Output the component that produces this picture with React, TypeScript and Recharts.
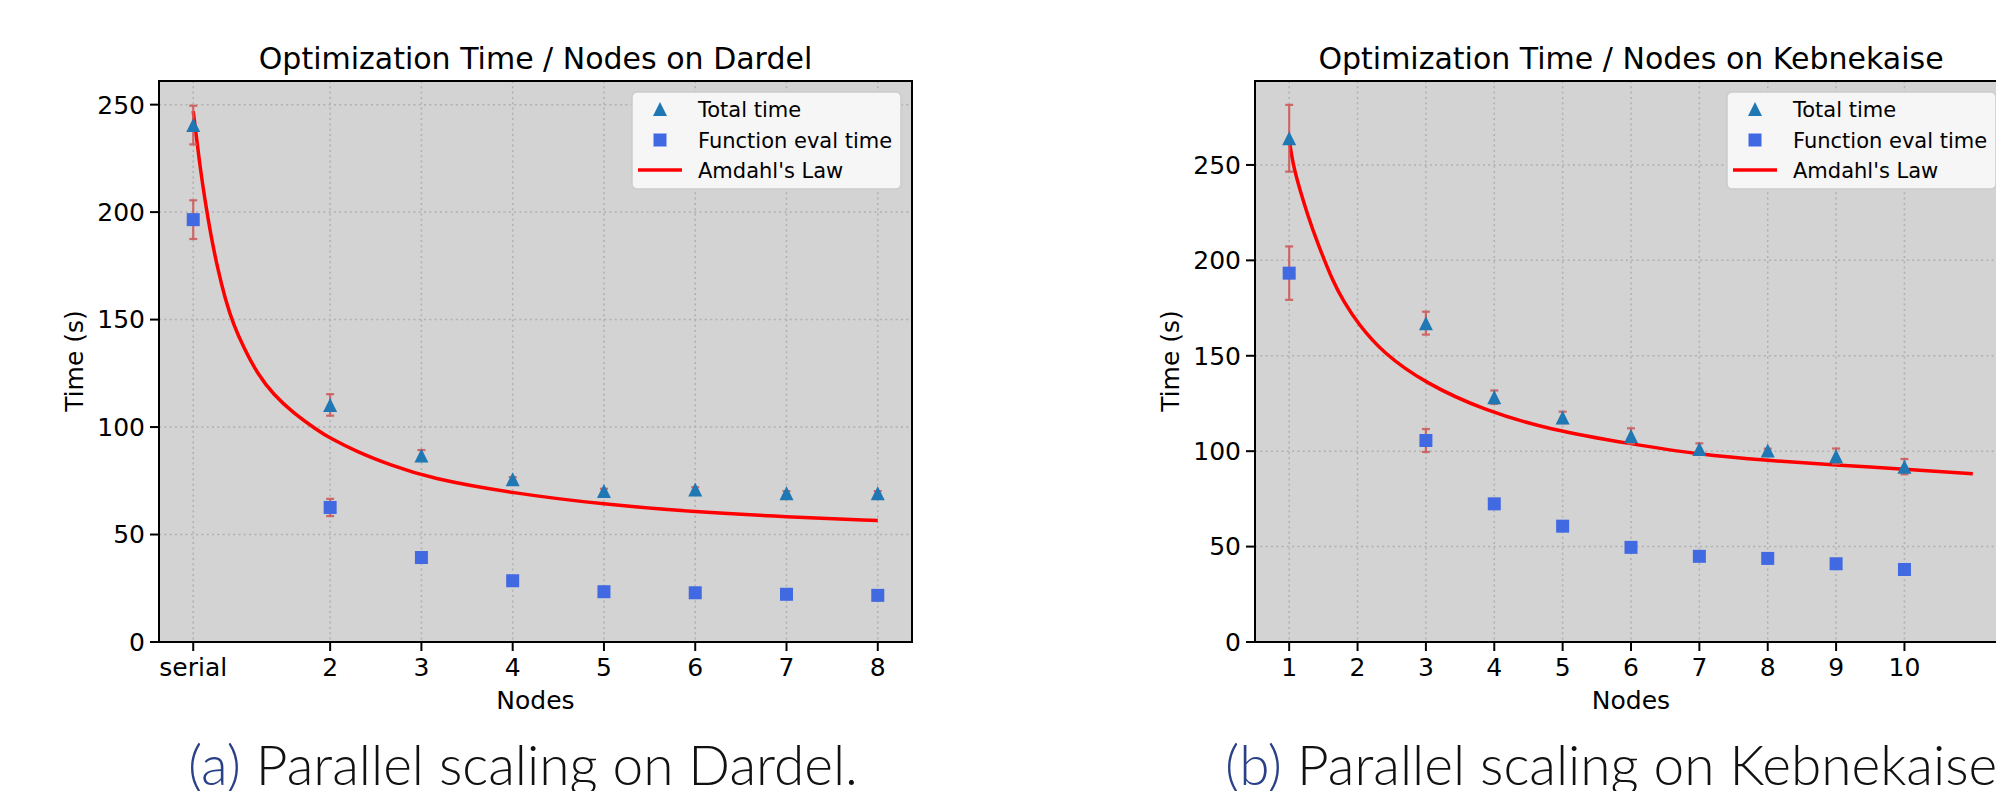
// Two scaling plots side by side: optimisation time against node count, with Amdahl fit.

import { ComposedChart, Line, Scatter, XAxis, YAxis, CartesianGrid, ErrorBar, ReferenceArea } from 'recharts';

// Dardel
const dardelNodes = [0.5, 2, 3, 4, 5, 6, 7, 8];
const dardelTickLabels = ['serial', '2', '3', '4', '5', '6', '7', '8'];
const dardelTotal = [240.5, 110.3, 86.8, 75.7, 70.3, 71.0, 69.2, 69.2];
const dardelTotalErr = [9, 5, 2.5, 1, 1, 1, 1, 1];
const dardelEval = [196.5, 62.6, 39.3, 28.5, 23.4, 22.9, 22.2, 21.7];
const dardelEvalErr = [9, 4, 1, 1, 0.5, 0.5, 0.5, 0.5];
const dardelAmdahlX = [
  0.5, 0.525, 0.579, 0.634, 0.689, 0.762, 0.852, 0.943, 1.053, 1.199, 1.38, 1.599, 1.854, 2, 2.29, 2.656, 3.09, 4, 5,
  6, 7, 8,
];
const dardelAmdahlY = [
  247, 238.4, 219.7, 204.2, 190.3, 174.7, 159.2, 147.5, 137, 125.1, 115, 106.5, 98.7, 94.8, 88.6, 82.4, 76.2, 69.2,
  64, 60.5, 58.2, 56.5,
];

// Kebnekaise
const kebNodes = [1, 3, 4, 5, 6, 7, 8, 9, 10];
const kebTicks = [1, 2, 3, 4, 5, 6, 7, 8, 9, 10];
const kebTickLabels = ['1', '2', '3', '4', '5', '6', '7', '8', '9', '10'];
const kebTotal = [264, 167.1, 128.3, 117.7, 108, 101.1, 100.3, 97.4, 91.9];
const kebTotalErr = [17.5, 6, 3.5, 3, 4, 3, 1, 4, 4];
const kebEval = [193.3, 105.6, 72.4, 60.7, 49.6, 44.9, 43.8, 41, 38];
const kebEvalErr = [14, 6, 1, 1, 1, 1, 1, 1, 1];
const kebAmdahlX = [1, 1.063, 1.16, 1.28, 1.4, 1.65, 1.79, 2, 2.38, 3, 3.84, 4.82, 6, 7, 8, 9, 10, 11];
const kebAmdahlY = [
  263, 248.9, 236.7, 222.7, 210.5, 187.9, 179.1, 167, 151.2, 135.5, 121.6, 111.1, 103.8, 98.2, 95.1, 92.7, 90.6, 88.2,
];

const yTicks = [0, 50, 100, 150, 200, 250];

const FONT = '"DejaVu Sans", sans-serif';
const H = 791;
const PLOT_TOP = 81;
const PLOT_BOTTOM = 642;
const Y_AXIS_W = 100;
const X_AXIS_H = 70;
const CHART_W = 1000;

const zip = (xs: number[], ys: number[], es?: number[]) =>
  xs.map((x, i) => ({ x, y: ys[i], err: es ? es[i] : 0 }));

function Triangle(props: any) {
  const { cx, cy } = props;
  if (cx == null || cy == null) return null;
  const s = 7;
  return <polygon points={`${cx},${cy - s} ${cx - s},${cy + s} ${cx + s},${cy + s}`} fill="#1f77b4" />;
}

function Square(props: any) {
  const { cx, cy } = props;
  if (cx == null || cy == null) return null;
  return <rect x={cx - 6.5} y={cy - 6.5} width={13} height={13} fill="#4169e1" />;
}

interface PanelProps {
  left: number;
  plotLeft: number;
  plotRight: number;
  xDomain: [number, number];
  xTicks: number[];
  xLabels: string[];
  yMax: number;
  total: { x: number; y: number; err: number }[];
  evals: { x: number; y: number; err: number }[];
  amdahl: { x: number; y: number; err: number }[];
}

function Panel({ left, plotLeft, plotRight, xDomain, xTicks, xLabels, yMax, total, evals, amdahl }: PanelProps) {
  const tick = { fontSize: 25, fill: '#000', fontFamily: FONT };
  return (
    <div style={{ position: 'absolute', left, top: 0 }}>
      <ComposedChart
        width={CHART_W}
        height={H}
        margin={{
          top: PLOT_TOP,
          left: plotLeft - left - Y_AXIS_W,
          right: CHART_W - (plotRight - left),
          bottom: H - PLOT_BOTTOM - X_AXIS_H,
        }}
      >
        <CartesianGrid fill="#d3d3d3" stroke="#b0b0b0" strokeDasharray="2 3.3" strokeWidth={1.5} />
        <XAxis
          type="number"
          dataKey="x"
          domain={xDomain}
          ticks={xTicks}
          interval={0}
          tickFormatter={(v: number) => xLabels[xTicks.indexOf(v)] ?? String(v)}
          height={X_AXIS_H}
          tick={tick}
          tickSize={9}
          tickMargin={7}
          axisLine={{ stroke: '#000', strokeWidth: 2 }}
          tickLine={{ stroke: '#000', strokeWidth: 2 }}
        />
        <YAxis
          type="number"
          domain={[0, yMax]}
          ticks={yTicks}
          interval={0}
          width={Y_AXIS_W}
          tick={tick}
          tickSize={9}
          tickMargin={5}
          axisLine={{ stroke: '#000', strokeWidth: 2 }}
          tickLine={{ stroke: '#000', strokeWidth: 2 }}
        />
        <Line
          data={amdahl}
          dataKey="y"
          type="basis"
          stroke="#ff0000"
          strokeWidth={3.5}
          dot={false}
          isAnimationActive={false}
        />
        <Scatter data={evals} dataKey="y" shape={Square} isAnimationActive={false}>
          <ErrorBar dataKey="err" direction="y" stroke="#cd5c5c" strokeOpacity={0.9} strokeWidth={2.2} width={4} />
        </Scatter>
        <Scatter data={total} dataKey="y" shape={Triangle} isAnimationActive={false}>
          <ErrorBar dataKey="err" direction="y" stroke="#cd5c5c" strokeOpacity={0.9} strokeWidth={2.2} width={4} />
        </Scatter>
        <ReferenceArea
          x1={xDomain[0]}
          x2={xDomain[1]}
          y1={0}
          y2={yMax}
          fill="none"
          stroke="#000"
          strokeWidth={2}
          ifOverflow="visible"
        />
      </ComposedChart>
    </div>
  );
}

function LegendBox({ x }: { x: number }) {
  const y = 92;
  const rows = [17, 48, 78];
  return (
    <g>
      <rect x={x} y={y} width={269} height={97} rx={5} fill="#f6f6f6" stroke="#cccccc" strokeWidth={1.5} />
      <polygon points={`${x + 28},${y + rows[0] - 7} ${x + 21},${y + rows[0] + 7} ${x + 35},${y + rows[0] + 7}`} fill="#1f77b4" />
      <rect x={x + 21.5} y={y + rows[1] - 6.5} width={13} height={13} fill="#4169e1" />
      <line x1={x + 6} x2={x + 50} y1={y + rows[2]} y2={y + rows[2]} stroke="#ff0000" strokeWidth={3.5} />
      {['Total time', 'Function eval time', "Amdahl's Law"].map((t, i) => (
        <text key={t} x={x + 66} y={y + rows[i] + 7.5} fontSize={21} fontFamily={FONT} fill="#000">
          {t}
        </text>
      ))}
    </g>
  );
}

export default function App() {
  const text = { fontFamily: FONT, fill: '#000' };
  const caption = { fontFamily: 'Lato, sans-serif', fontWeight: 300, fontSize: 55, fill: '#111' };
  return (
    <div style={{ position: 'fixed', left: 0, top: 0, width: 1996, height: H, overflow: 'hidden', background: '#fff' }}>
      <Panel
        left={0}
        plotLeft={159}
        plotRight={912}
        xDomain={[0.125, 8.375]}
        xTicks={dardelNodes}
        xLabels={dardelTickLabels}
        yMax={261}
        total={zip(dardelNodes, dardelTotal, dardelTotalErr)}
        evals={zip(dardelNodes, dardelEval, dardelEvalErr)}
        amdahl={zip(dardelAmdahlX, dardelAmdahlY)}
      />
      <Panel
        left={1100}
        plotLeft={1255}
        plotRight={2007}
        xDomain={[0.5, 11.5]}
        xTicks={kebTicks}
        xLabels={kebTickLabels}
        yMax={294}
        total={zip(kebNodes, kebTotal, kebTotalErr)}
        evals={zip(kebNodes, kebEval, kebEvalErr)}
        amdahl={zip(kebAmdahlX, kebAmdahlY)}
      />
      <svg width={1996} height={H} style={{ position: 'absolute', left: 0, top: 0, pointerEvents: 'none' }}>
        <text x={535.5} y={69} textAnchor="middle" fontSize={30} {...text}>
          Optimization Time / Nodes on Dardel
        </text>
        <text x={1631} y={69} textAnchor="middle" fontSize={30} {...text}>
          Optimization Time / Nodes on Kebnekaise
        </text>
        <text x={535.5} y={709} textAnchor="middle" fontSize={25} {...text}>
          Nodes
        </text>
        <text x={1631} y={709} textAnchor="middle" fontSize={25} {...text}>
          Nodes
        </text>
        <text transform="translate(83,361) rotate(-90)" textAnchor="middle" fontSize={25} {...text}>
          Time (s)
        </text>
        <text transform="translate(1179,361) rotate(-90)" textAnchor="middle" fontSize={25} {...text}>
          Time (s)
        </text>
        <LegendBox x={632} />
        <LegendBox x={1727} />
        <text x={188} y={785} {...caption}>
          <tspan fill="#2b4187">(a)</tspan> Parallel scaling on Dardel.
        </text>
        <text x={1225} y={785} {...caption}>
          <tspan fill="#2b4187">(b)</tspan> Parallel scaling on Kebnekaise
        </text>
      </svg>
    </div>
  );
}
